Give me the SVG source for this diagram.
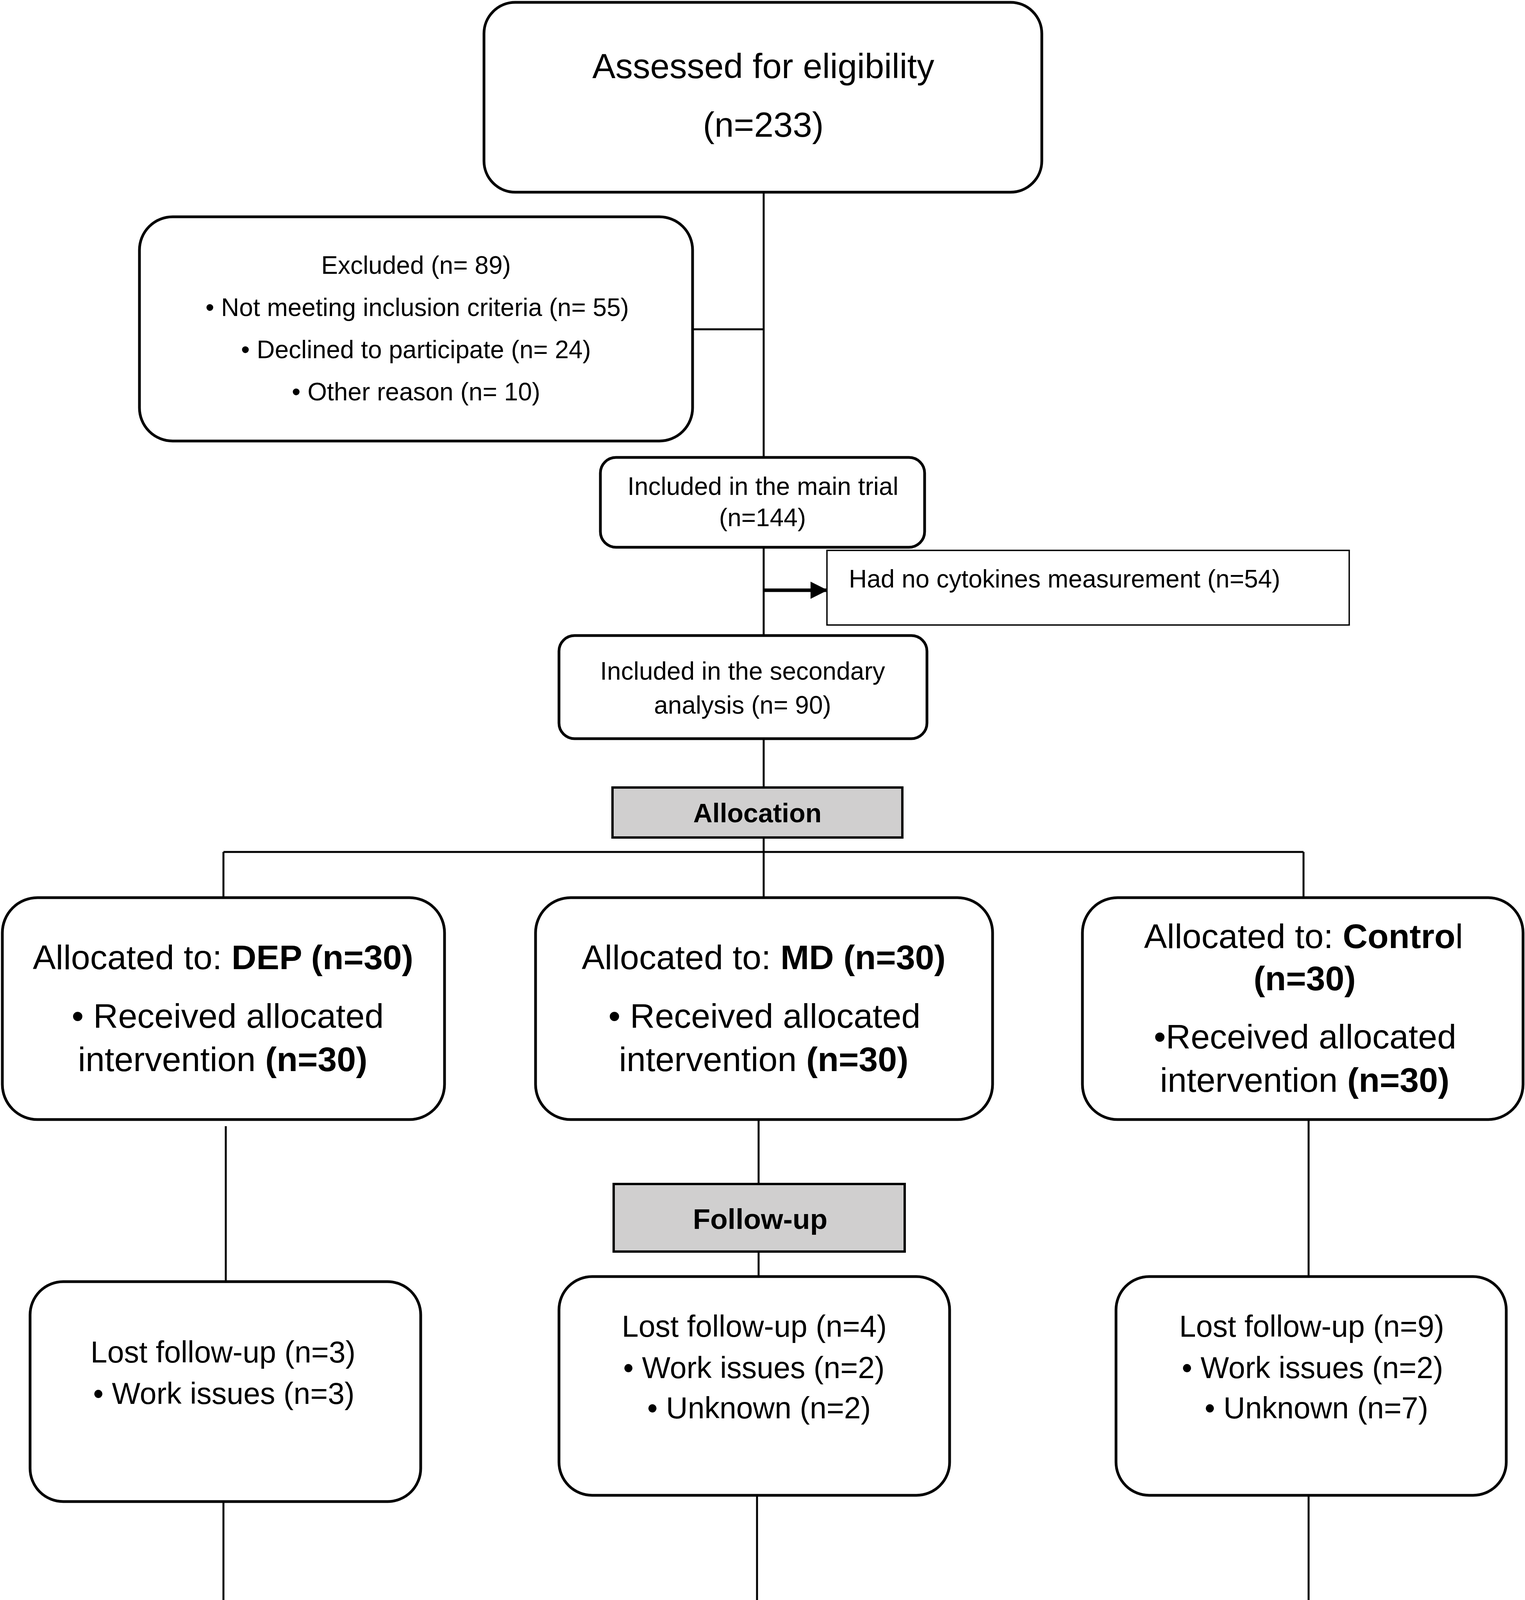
<svg xmlns="http://www.w3.org/2000/svg" width="3904" height="4626" viewBox="0 0 3904 4626">
<style>
text{font-family:"Liberation Sans",Arial,sans-serif;fill:#000}
.box{fill:#fff;stroke:#000;stroke-width:7}
.gray{fill:#d0cfcf;stroke:#000;stroke-width:6}
.thin{fill:#fff;stroke:#000;stroke-width:3.5}
.conn{stroke:#000;stroke-width:5;fill:none}
.c{text-anchor:middle}
.b{font-weight:bold}
.f89{font-size:89px}.f64{font-size:64px}.f88{font-size:88px}.f78{font-size:77px}.f76{font-size:76px}
</style>
<defs>
<marker id="ah" markerUnits="userSpaceOnUse" viewBox="0 0 44 44" markerWidth="44" markerHeight="44" refX="42" refY="22" orient="auto">
<path d="M0,0 L44,22 L0,44 z" fill="#000"/>
</marker>
</defs>
<g id="connectors">
<line class="conn" x1="1955" y1="492" x2="1955" y2="1171"/>
<line class="conn" x1="1773" y1="843" x2="1955" y2="843"/>
<line class="conn" x1="1955" y1="1401" x2="1955" y2="1627"/>
<line x1="1955" y1="1511" x2="2117" y2="1511" stroke="#000" stroke-width="9" marker-end="url(#ah)"/>
<line class="conn" x1="1955" y1="1891" x2="1955" y2="2016"/>
<line class="conn" x1="1955" y1="2144" x2="1955" y2="2298"/>
<line class="conn" x1="572" y1="2181" x2="3337" y2="2181"/>
<line class="conn" x1="572" y1="2181" x2="572" y2="2298"/>
<line class="conn" x1="3337" y1="2181" x2="3337" y2="2298"/>
<line class="conn" x1="578" y1="2883" x2="578" y2="3281"/>
<line class="conn" x1="572" y1="3844" x2="572" y2="4426"/>
<line class="conn" x1="1942" y1="2866" x2="1942" y2="3031"/>
<line class="conn" x1="1942" y1="3204" x2="1942" y2="3268"/>
<line class="conn" x1="1938" y1="3828" x2="1938" y2="4120"/>
<line class="conn" x1="1938" y1="4312" x2="1938" y2="4415"/>
<line class="conn" x1="3350" y1="2868" x2="3350" y2="3268"/>
<line class="conn" x1="3350" y1="3828" x2="3350" y2="4413"/>
</g>
<g id="assessed">
<rect class="box" x="1239" y="6" width="1428" height="486" rx="80"/>
<text class="c f89" x="1954" y="200">Assessed for eligibility</text>
<text class="c f89" x="1954" y="350">(n=233)</text>
</g>
<g id="excluded">
<rect class="box" x="357" y="555" width="1416" height="574" rx="85"/>
<text class="c f64" x="1065" y="701">Excluded (n= 89)</text>
<text class="c f64" x="1068" y="809">• Not meeting inclusion criteria (n= 55)</text>
<text class="c f64" x="1065" y="917">• Declined to participate (n= 24)</text>
<text class="c f64" x="1065" y="1025">• Other reason (n= 10)</text>
</g>
<g id="included-main">
<rect class="box" x="1537" y="1171" width="830" height="230" rx="40"/>
<text class="c f64" x="1953" y="1267">Included in the main trial</text>
<text class="c f64" x="1952" y="1347">(n=144)</text>
</g>
<g id="no-cytokines">
<rect class="thin" x="2117" y="1409" width="1337" height="191"/>
<text class="f64" x="2173" y="1504">Had no cytokines measurement (n=54)</text>
</g>
<g id="included-secondary">
<rect class="box" x="1431" y="1627" width="942" height="264" rx="40"/>
<text class="c f64" x="1901" y="1740">Included in the secondary</text>
<text class="c f64" x="1901" y="1827">analysis (n= 90)</text>
</g>
<g id="allocation">
<rect class="gray" x="1568" y="2016" width="742" height="128"/>
<text class="c b" x="1939" y="2105" font-size="68">Allocation</text>
</g>
<g id="dep">
<rect class="box" x="6" y="2298" width="1132" height="568" rx="90"/>
<text class="c f88" x="571" y="2481">Allocated to: <tspan class="b">DEP (n=30)</tspan></text>
<text class="c f88" x="583" y="2631">• Received allocated</text>
<text class="c f88" x="570" y="2742">intervention <tspan class="b">(n=30)</tspan></text>
</g>
<g id="md">
<rect class="box" x="1371" y="2298" width="1170" height="568" rx="90"/>
<text class="c f88" x="1955" y="2481">Allocated to: <tspan class="b">MD (n=30)</tspan></text>
<text class="c f88" x="1957" y="2631">• Received allocated</text>
<text class="c f88" x="1955" y="2742">intervention <tspan class="b">(n=30)</tspan></text>
</g>
<g id="control">
<rect class="box" x="2771" y="2298" width="1128" height="568" rx="90"/>
<text class="c f88" x="3337" y="2427">Allocated to: <tspan class="b">Contro</tspan>l</text>
<text class="c f88 b" x="3340" y="2535">(n=30)</text>
<text class="c f88" x="3341" y="2684">•Received allocated</text>
<text class="c f88" x="3340" y="2795">intervention <tspan class="b">(n=30)</tspan></text>
</g>
<g id="followup">
<rect class="gray" x="1571" y="3031" width="745" height="173"/>
<text class="c b" x="1946" y="3146" font-size="73">Follow-up</text>
</g>
<g id="lost-dep">
<rect class="box" x="77" y="3281" width="1000" height="563" rx="85"/>
<text class="c f78" x="571" y="3488">Lost follow-up (n=3)</text>
<text class="c f78" x="573" y="3594">• Work issues (n=3)</text>
</g>
<g id="lost-md">
<rect class="box" x="1431" y="3268" width="1000" height="560" rx="85"/>
<text class="c f78" x="1931" y="3422">Lost follow-up (n=4)</text>
<text class="c f78" x="1930" y="3528">• Work issues (n=2)</text>
<text class="c f78" x="1943" y="3631">• Unknown (n=2)</text>
</g>
<g id="lost-control">
<rect class="box" x="2857" y="3268" width="999" height="560" rx="85"/>
<text class="c f78" x="3358" y="3422">Lost follow-up (n=9)</text>
<text class="c f78" x="3360" y="3528">• Work issues (n=2)</text>
<text class="c f78" x="3370" y="3631">• Unknown (n=7)</text>
</g>
<g id="analysis">
<rect class="gray" x="1574" y="4120" width="740" height="192"/>
<text class="c b" x="1940" y="4247" font-size="68">Analysis</text>
</g>
<g id="analyzed-dep">
<rect class="box" x="79" y="4426" width="995" height="195" rx="40"/>
<text class="c f76" x="575" y="4555">Analyzed (n=27)</text>
</g>
<g id="analyzed-md">
<rect class="box" x="1434" y="4426" width="1017" height="195" rx="40"/>
<text class="c f76" x="1942" y="4556">Analyzed (n= 26)</text>
</g>
<g id="analyzed-control">
<rect class="box" x="2872" y="4413" width="950" height="199" rx="40"/>
<text class="c f76" x="3345" y="4543">Analyzed (n=21)</text>
</g>
</svg>
